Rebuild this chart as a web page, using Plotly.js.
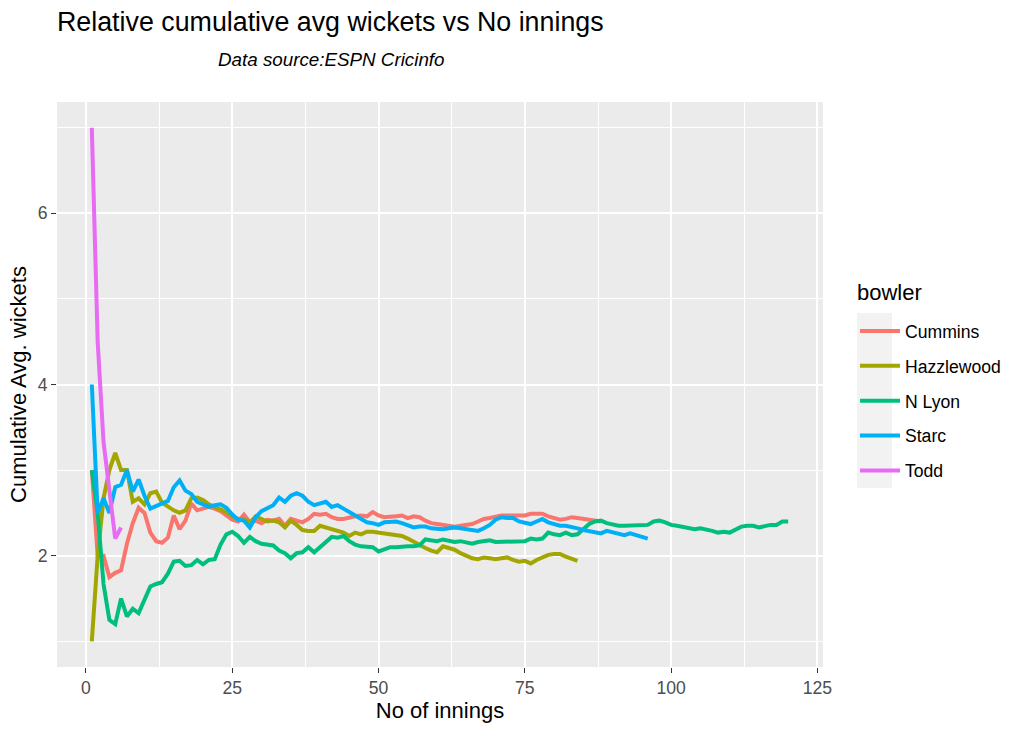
<!DOCTYPE html>
<html>
<head>
<meta charset="utf-8">
<script src="https://cdn.plot.ly/plotly-3.0.1.min.js"></script>
<style>html,body{margin:0;padding:0;background:#fff;}#chart{width:1023px;height:731px;}</style>
</head>
<body>
<div id="chart"></div>
<script>
const bowlers = ["Cummins", "Hazzlewood", "N Lyon", "Starc", "Todd"];
const bowlerColors = ["#F8766D", "#A3A500", "#00BF7D", "#00B0F6", "#E76BF3"];

const cummins = [3.0, 2.0, 2.0, 1.75, 1.8, 1.83, 2.14, 2.38, 2.56, 2.5,
  2.27, 2.17, 2.15, 2.21, 2.47, 2.31, 2.41, 2.61, 2.53, 2.55,
  2.57, 2.55, 2.52, 2.47, 2.42, 2.4, 2.48, 2.39, 2.41, 2.38,
  2.42, 2.41, 2.43, 2.35, 2.43, 2.41, 2.39, 2.43, 2.49, 2.48,
  2.49, 2.45, 2.43, 2.43, 2.45, 2.46, 2.47, 2.46, 2.51, 2.47,
  2.45, 2.45, 2.46, 2.47, 2.44, 2.46, 2.45, 2.41, 2.38, 2.37,
  2.36, 2.35, 2.34, 2.35, 2.36, 2.37, 2.4, 2.43, 2.44, 2.46,
  2.47, 2.47, 2.47, 2.46, 2.47, 2.49, 2.49, 2.49, 2.46, 2.44,
  2.42, 2.43, 2.45, 2.44, 2.43, 2.42, 2.41, 2.4];

const hazzlewood = [1.0, 2.0, 2.67, 3.0, 3.2, 3.0, 3.0, 2.63, 2.67, 2.6,
  2.73, 2.75, 2.62, 2.57, 2.53, 2.5, 2.53, 2.67, 2.68, 2.65,
  2.6, 2.57, 2.54, 2.51, 2.46, 2.43, 2.43, 2.39, 2.46, 2.43,
  2.4, 2.41, 2.39, 2.33, 2.41, 2.36, 2.3, 2.29, 2.29, 2.35,
  2.33, 2.31, 2.29, 2.27, 2.23, 2.27, 2.25, 2.28, 2.28, 2.27,
  2.26, 2.26, 2.25, 2.23, 2.2, 2.16, 2.12, 2.09, 2.06, 2.04,
  2.11, 2.09, 2.07, 2.03, 2.0, 1.97, 1.96, 1.98, 1.97, 1.96,
  1.97, 1.98, 1.95, 1.93, 1.94, 1.91, 1.95, 1.98, 2.01, 2.02,
  2.02, 1.99, 1.97, 1.94];

const nLyon = [3.0, 2.5, 1.67, 1.25, 1.2, 1.5, 1.29, 1.38, 1.33, 1.5,
  1.64, 1.67, 1.69, 1.79, 1.93, 1.94, 1.88, 1.89, 1.95, 1.9,
  1.95, 1.96, 2.13, 2.25, 2.28, 2.23, 2.15, 2.22, 2.17, 2.14,
  2.13, 2.12, 2.06, 2.03, 1.97, 2.03, 2.04, 2.1, 2.04, 2.1,
  2.17, 2.22, 2.21, 2.23, 2.17, 2.13, 2.11, 2.1, 2.1, 2.05,
  2.08, 2.1, 2.1, 2.11, 2.11, 2.11, 2.12, 2.19, 2.18, 2.17,
  2.19, 2.17, 2.16, 2.17, 2.15, 2.14, 2.16, 2.17, 2.18, 2.16,
  2.16, 2.16, 2.16, 2.16, 2.17, 2.2, 2.19, 2.2, 2.27, 2.25,
  2.24, 2.27, 2.24, 2.25, 2.31, 2.37, 2.4, 2.41, 2.38, 2.36,
  2.35, 2.35, 2.35, 2.36, 2.36, 2.36, 2.4, 2.41, 2.39, 2.36,
  2.35, 2.34, 2.33, 2.31, 2.32, 2.31, 2.29, 2.27, 2.28, 2.27,
  2.3, 2.34, 2.35, 2.35, 2.33, 2.35, 2.36, 2.36, 2.4, 2.4];

const starc = [4.0, 2.5, 2.67, 2.5, 2.8, 2.83, 3.0, 2.75, 2.89, 2.7,
  2.55, 2.58, 2.62, 2.64, 2.8, 2.88, 2.76, 2.72, 2.63, 2.6,
  2.57, 2.59, 2.6, 2.56, 2.48, 2.42, 2.41, 2.33, 2.45, 2.52,
  2.56, 2.59, 2.68, 2.63, 2.7, 2.73, 2.7, 2.63, 2.59, 2.61,
  2.63, 2.57, 2.59, 2.55, 2.51, 2.47, 2.43, 2.39, 2.38, 2.36,
  2.39, 2.39, 2.4, 2.38, 2.35, 2.33, 2.34, 2.34, 2.32, 2.31,
  2.31, 2.32, 2.33, 2.32, 2.31, 2.3, 2.29, 2.32, 2.36, 2.42,
  2.45, 2.44, 2.44, 2.4, 2.38, 2.37, 2.4, 2.43, 2.39, 2.37,
  2.35, 2.35, 2.34, 2.32, 2.3, 2.29, 2.27, 2.26, 2.29, 2.27,
  2.26, 2.24, 2.26, 2.24, 2.22, 2.2];

const todd = [7.0, 4.5, 3.33, 2.75, 2.2, 2.33];

const seriesValues = [cummins, hazzlewood, nLyon, starc, todd];

const xTicks = [0, 25, 50, 75, 100, 125];
const xMinor = [12.5, 37.5, 62.5, 87.5, 112.5];
const yTicks = [2, 4, 6];
const yMinor = [1, 3, 5, 7];

const FONT = '"Liberation Sans", Arial, Helvetica, sans-serif';

const traces = bowlers.map((name, k) => ({
  type: 'scatter',
  mode: 'lines',
  name: name,
  legendgroup: name,
  x: seriesValues[k].map((_, i) => i + 1),
  y: seriesValues[k],
  line: {color: bowlerColors[k], width: 4},
  hoverinfo: 'x+y+name'
}));

const L = 57, R = 823, T = 102, B = 667;
const W = R - L, H = B - T;
const px2x = p => (p - L) / W;
const px2y = p => (B - p) / H;

const layout = {
  width: 1023,
  height: 731,
  margin: {l: L, r: 1023 - R, t: T, b: 731 - B, pad: 0},
  paper_bgcolor: '#FFFFFF',
  plot_bgcolor: '#EBEBEB',
  font: {family: FONT, color: '#000000'},
  title: {
    text: 'Relative cumulative avg wickets vs No innings',
    font: {family: FONT, size: 26.8, color: '#000000'},
    xref: 'paper', x: 0, xanchor: 'left',
    yref: 'container', y: 1 - 22 / 731, yanchor: 'middle'
  },
  annotations: [{
    text: 'Data source:ESPN Cricinfo',
    xref: 'paper', yref: 'paper',
    x: px2x(216), y: px2y(59), xanchor: 'left', yanchor: 'middle',
    showarrow: false,
    font: {family: FONT, size: 18.8, color: '#000000', style: 'italic'}
  }, {
    text: 'bowler',
    xref: 'paper', yref: 'paper',
    x: px2x(855), y: px2y(292), xanchor: 'left', yanchor: 'middle',
    showarrow: false,
    font: {family: FONT, size: 22, color: '#000000'}
  }],
  shapes: [{
    type: 'rect', xref: 'paper', yref: 'paper', layer: 'below',
    x0: px2x(857), x1: px2x(892), y0: px2y(488), y1: px2y(313),
    fillcolor: '#F2F2F2', line: {width: 0}
  }],
  xaxis: {
    range: [-4.95, 125.95],
    tickvals: xTicks,
    ticktext: xTicks.map(String),
    ticks: 'outside', ticklen: 5, tickwidth: 1.1, tickcolor: '#333333',
    tickfont: {family: FONT, size: 17.6, color: '#4D4D4D'},
    showgrid: true, gridcolor: '#FFFFFF', gridwidth: 2,
    minor: {tickvals: xMinor, showgrid: true, gridcolor: '#FFFFFF', gridwidth: 1, ticks: ''},
    zeroline: false, showline: false,
    automargin: false,
    title: {text: 'No of innings', font: {family: FONT, size: 22, color: '#000000'}, standoff: 3}
  },
  yaxis: {
    range: [0.7, 7.3],
    tickvals: yTicks,
    ticktext: yTicks.map(String),
    ticks: 'outside', ticklen: 5, tickwidth: 1.1, tickcolor: '#333333',
    tickfont: {family: FONT, size: 17.6, color: '#4D4D4D'},
    showgrid: true, gridcolor: '#FFFFFF', gridwidth: 2,
    minor: {tickvals: yMinor, showgrid: true, gridcolor: '#FFFFFF', gridwidth: 1, ticks: ''},
    zeroline: false, showline: false,
    automargin: false,
    title: {text: 'Cumulative Avg. wickets', font: {family: FONT, size: 22, color: '#000000'}, standoff: 4}
  },
  showlegend: true,
  legend: {
    x: px2x(855), xanchor: 'left',
    y: px2y(313), yanchor: 'top',
    bgcolor: 'rgba(0,0,0,0)', borderwidth: 0,
    traceorder: 'grouped', tracegroupgap: 9,
    font: {family: FONT, size: 17.6, color: '#000000'},
    itemwidth: 40
  },
  hovermode: 'closest'
};

Plotly.newPlot('chart', traces, layout, {displayModeBar: false, staticPlot: false});
</script>
</body>
</html>
